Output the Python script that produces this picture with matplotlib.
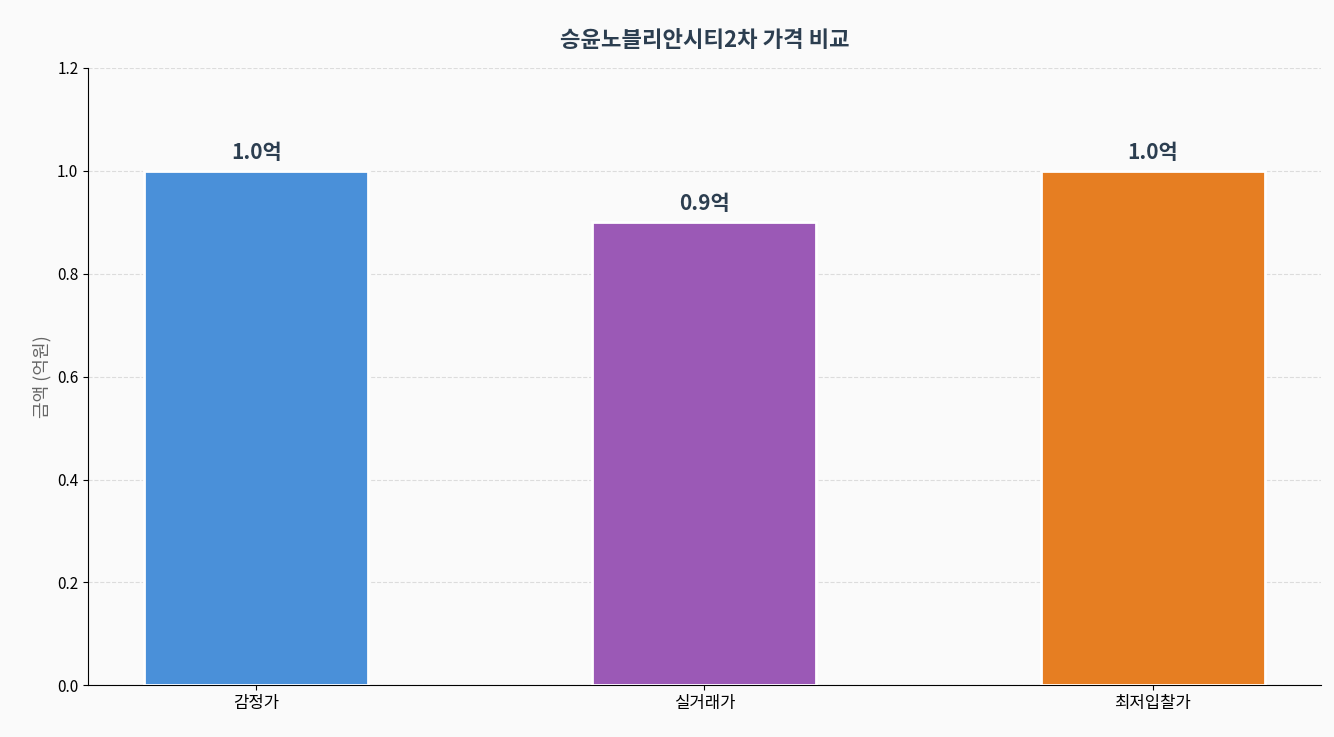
import matplotlib
matplotlib.use('Agg')
from matplotlib import pyplot as plt

plt.rcParams['font.family'] = ['Noto Sans CJK KR', 'DejaVu Sans']

categories = ['감정가', '실거래가', '최저입찰가']
values = [1.0, 0.9, 1.0]
colors = ['#4a90d9', '#9b59b6', '#e67e22']

fig, ax = plt.subplots(figsize=(13.34, 7.37), dpi=100)
fig.patch.set_facecolor('#fafafa')
ax.set_facecolor('#fafafa')

bars = ax.bar(categories, values, width=0.5, color=colors, edgecolor='white', linewidth=2, zorder=3)
for b, v in zip(bars, values):
    ax.text(b.get_x() + b.get_width() / 2, v + 0.015, f'{v:.1f}억', ha='center', va='bottom',
            fontsize=15, fontweight='bold', color='#2c3e50')

ax.set_ylim(0, 1.2)
ax.set_ylabel('금액 (억원)', fontsize=13, color='#666666')
ax.set_title('승윤노블리안시티2차 가격 비교', fontsize=16, fontweight='bold', color='#2c3e50', pad=15)
ax.grid(axis='y', linestyle='--', alpha=0.4, zorder=0)
ax.spines['top'].set_visible(False)
ax.spines['right'].set_visible(False)
ax.tick_params(axis='x', labelsize=12)
ax.tick_params(axis='y', labelsize=11)

plt.subplots_adjust(left=0.066, right=0.99, top=0.908, bottom=0.07)
plt.savefig('out.png', facecolor=fig.get_facecolor())
